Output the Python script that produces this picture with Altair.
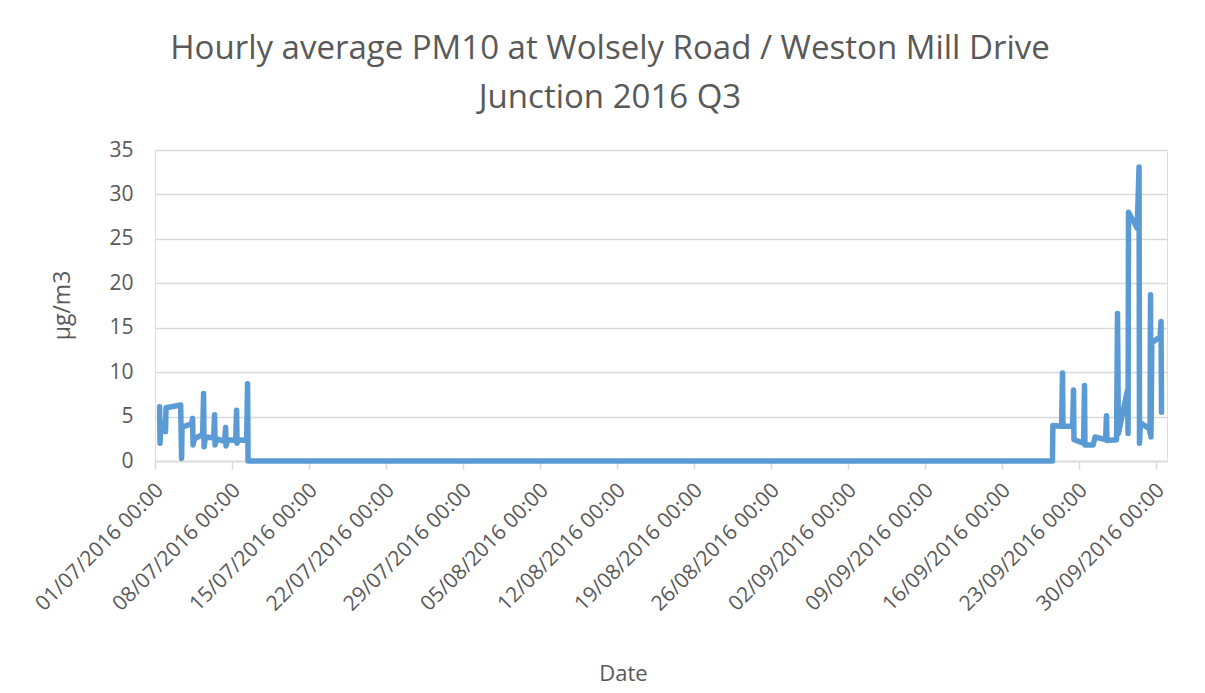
import altair as alt
import pandas as pd

# Hourly PM10 readings (µg/m3)
times = [
    "2016-07-01 10:00", "2016-07-01 11:00", "2016-07-01 13:00", "2016-07-01 22:00",
    "2016-07-01 23:00", "2016-07-02 00:00", "2016-07-03 08:00", "2016-07-03 10:00",
    "2016-07-03 11:00", "2016-07-04 08:00", "2016-07-04 10:00", "2016-07-04 11:00",
    "2016-07-04 14:00", "2016-07-05 08:00", "2016-07-05 10:00", "2016-07-05 11:00",
    "2016-07-05 14:00", "2016-07-06 08:00", "2016-07-06 10:00", "2016-07-06 11:00",
    "2016-07-06 14:00", "2016-07-07 08:00", "2016-07-07 10:00", "2016-07-07 11:00",
    "2016-07-07 14:00", "2016-07-08 08:00", "2016-07-08 10:00", "2016-07-08 11:00",
    "2016-07-08 14:00", "2016-07-09 08:00", "2016-07-09 10:00", "2016-07-09 11:00",
    "2016-09-20 14:00", "2016-09-20 15:00", "2016-09-21 10:00", "2016-09-21 12:00",
    "2016-09-21 13:00", "2016-09-22 10:00", "2016-09-22 12:00", "2016-09-22 13:00",
    "2016-09-23 10:00", "2016-09-23 12:00", "2016-09-23 13:00", "2016-09-24 07:00",
    "2016-09-24 11:00", "2016-09-25 10:00", "2016-09-25 12:00", "2016-09-25 13:00",
    "2016-09-26 10:00", "2016-09-26 12:00", "2016-09-26 14:00", "2016-09-27 10:00",
    "2016-09-27 11:00", "2016-09-27 12:00", "2016-09-28 07:00", "2016-09-28 11:00",
    "2016-09-28 12:00", "2016-09-28 14:00", "2016-09-29 10:00", "2016-09-29 11:00",
    "2016-09-29 12:00", "2016-09-29 13:00", "2016-09-29 15:00", "2016-09-30 09:00",
    "2016-09-30 11:00", "2016-09-30 12:00",
]
pm10 = [
    6.1, 2.0, 4.4, 4.3,
    3.3, 6.0, 6.3, 0.3,
    3.8, 4.2, 4.8, 1.8,
    2.5, 3.0, 7.6, 1.6,
    2.7, 2.6, 5.2, 1.8,
    2.5, 2.2, 3.8, 1.7,
    2.4, 2.3, 5.7, 2.0,
    2.4, 2.3, 8.7, 0.0,
    0.0, 4.0, 3.9, 9.9,
    3.9, 3.9, 8.0, 2.4,
    2.0, 8.5, 1.8, 1.8,
    2.7, 2.4, 5.1, 2.3,
    2.4, 16.6, 3.1, 8.0,
    3.1, 28.0, 26.2, 33.1,
    2.0, 4.3, 3.6, 3.1,
    18.7, 2.7, 13.3, 14.0,
    15.7, 5.5,
]

# Axis tick labels (weekly from 1 July 2016)
tick_dates = [
    (7, 1), (7, 8), (7, 15), (7, 22), (7, 29), (8, 5), (8, 12),
    (8, 19), (8, 26), (9, 2), (9, 9), (9, 16), (9, 23), (9, 30),
]
y_ticks = [0, 5, 10, 15, 20, 25, 30, 35]

title_lines = ["Hourly average PM10 at Wolsely Road / Weston Mill Drive", "Junction 2016 Q3"]

df = pd.DataFrame({"time": times, "pm10": pm10})

tick_values = [alt.DateTime(year=2016, month=m, date=d, hours=0) for m, d in tick_dates]
x_domain = [alt.DateTime(year=2016, month=7, date=1, hours=0),
            alt.DateTime(year=2016, month=10, date=1, hours=0)]

FONT = "Open Sans"
TXT = "#595959"
GRID = "#D9D9D9"

chart = alt.Chart(df).mark_line(
    color="#5B9BD5", strokeWidth=5.5, strokeCap="round", strokeJoin="round"
).encode(
    x=alt.X(
        "time:T",
        scale=alt.Scale(domain=x_domain, nice=False),
        axis=alt.Axis(
            values=tick_values,
            format="%d/%m/%Y %H:%M",
            labelAngle=-45,
            labelAlign="right",
            labelBaseline="top",
            labelPadding=10,
            labelOffset=-3,
            labelOverlap=False,
            labelFlush=False,
            labelBound=False,
            grid=False,
            domainColor=GRID,
            domainWidth=1.5,
            tickColor=GRID,
            tickWidth=1.5,
            tickSize=8,
            labelFont=FONT,
            labelFontSize=21,
            labelColor=TXT,
            title="Date",
            titleFont=FONT,
            titleFontSize=22,
            titleFontWeight="normal",
            titleColor=TXT,
            titleX=468,
            titleY=219,
            titleAlign="center",
            titleBaseline="alphabetic",
        ),
    ),
    y=alt.Y(
        "pm10:Q",
        scale=alt.Scale(domain=[0, 35], nice=False),
        axis=alt.Axis(
            values=y_ticks,
            domain=False,
            ticks=False,
            labelPadding=22,
            grid=True,
            gridColor=GRID,
            gridWidth=1.5,
            labelFont=FONT,
            labelFontSize=21,
            labelColor=TXT,
            title="µg/m3",
            titleFont=FONT,
            titleFontSize=23,
            titleFontWeight="normal",
            titleColor=TXT,
            titleAngle=-90,
            titleX=-93,
            titleY=155,
            titleAlign="center",
            titleBaseline="middle",
        ),
    ),
).properties(
    width=1012,
    height=311,
    autosize=alt.AutoSizeParams(type="none"),
    padding={"left": 147, "top": 142, "right": 30, "bottom": 224},
    title=alt.TitleParams(
        text=title_lines,
        font=FONT,
        fontSize=33,
        fontWeight="normal",
        color=TXT,
        anchor="middle",
        lineHeight=49,
        offset=24,
        dx=-51,
    ),
).configure_view(stroke=None).configure(background="white")

chart.save("out.html", embed_options={"renderer": "svg", "actions": False})
